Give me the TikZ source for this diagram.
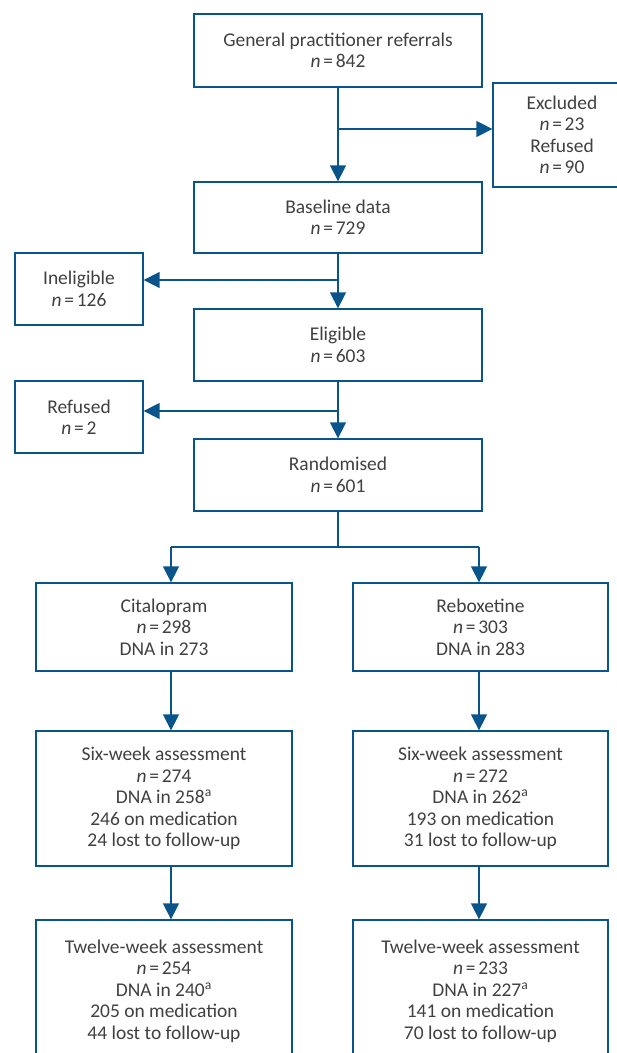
\documentclass[tikz,border=0pt]{standalone}
\usepackage{fontspec}
\setmainfont{Carlito}
\usetikzlibrary{arrows.meta}
\definecolor{lineblue}{RGB}{10,84,140}
\definecolor{txtgray}{RGB}{64,64,64}
\newcommand{\nn}[1]{\textit{n}\hspace{0.14em}=\hspace{0.14em}#1}
\begin{document}
\begin{tikzpicture}[x=0.75pt,y=-0.75pt,
  txt/.style={align=center,text=txtgray,font=\fontsize{14.6}{16.1}\selectfont},
  box/.style={txt,draw=lineblue,line width=1pt,rectangle,inner sep=0pt},
  conn/.style={draw=lineblue,line width=1.2pt},
  arr/.style={conn,-{Triangle[length=12pt,width=12pt]}}]
\useasboundingbox (0,0) rectangle (617,1053);
\node[box,minimum width=216pt,minimum height=54.75pt] (gp) at (338,50.5) {General practitioner referrals\\\nn{842}};
\node[box,minimum width=103.5pt,minimum height=78pt] (excl) at (562,135) {Excluded\\\nn{23}\\Refused\\\nn{90}};
\node[box,minimum width=216pt,minimum height=53.25pt] (base) at (338,217.5) {Baseline data\\\nn{729}};
\node[box,minimum width=96pt,minimum height=54pt] (inel) at (79,289) {Ineligible\\\nn{126}};
\node[box,minimum width=216pt,minimum height=54pt] (elig) at (338,345) {Eligible\\\nn{603}};
\node[box,minimum width=96pt,minimum height=54pt] (refu) at (79,417) {Refused\\\nn{2}};
\node[box,minimum width=216pt,minimum height=54pt] (rand) at (338,475) {Randomised\\\nn{601}};
\node[box,minimum width=192pt,minimum height=66pt] (cit) at (164,627) {Citalopram\\\nn{298}\\DNA in 273};
\node[box,minimum width=191.25pt,minimum height=66pt] (reb) at (480.5,627) {Reboxetine\\\nn{303}\\DNA in 283};
\node[box,minimum width=192pt,minimum height=101.25pt] (sixc) at (164,798.5) {Six-week assessment\\\nn{274}\\DNA in 258\textsuperscript{a}\\246 on medication\\24 lost to follow-up};
\node[box,minimum width=191.25pt,minimum height=101.25pt] (sixr) at (480.5,798.5) {Six-week assessment\\\nn{272}\\DNA in 262\textsuperscript{a}\\193 on medication\\31 lost to follow-up};
\node[box,minimum width=192pt,minimum height=105pt] (twc) at (164,990) {};
\node[box,minimum width=191.25pt,minimum height=105pt] (twr) at (480.5,990) {};
\node[txt,anchor=north] (twct) at (164,935) {Twelve-week assessment\\\nn{254}\\DNA in 240\textsuperscript{a}\\205 on medication\\44 lost to follow-up};
\node[txt,anchor=north] (twrt) at (480.5,935) {Twelve-week assessment\\\nn{233}\\DNA in 227\textsuperscript{a}\\141 on medication\\70 lost to follow-up};
% junctions
\coordinate (j1) at (338,129);
\coordinate (j2) at (338,280);
\coordinate (j3) at (338,411);
\coordinate (sp) at (338,547);
\coordinate (spl) at (171,547);
\coordinate (spr) at (479,547);
\draw[arr] (gp.south) -- (base.north);
\draw[arr] (j1) -- (j1 -| excl.west);
\draw[arr] (base.south) -- (elig.north);
\draw[arr] (j2) -- (j2 -| inel.east);
\draw[arr] (elig.south) -- (rand.north);
\draw[arr] (j3) -- (j3 -| refu.east);
\draw[conn] (rand.south) -- (sp);
\draw[conn] (spl) -- (spr);
\draw[arr] (spl) -- (spl |- cit.north);
\draw[arr] (spr) -- (spr |- reb.north);
\draw[arr] (cit.south -| spl) -- (spl |- sixc.north);
\draw[arr] (reb.south -| spr) -- (spr |- sixr.north);
\draw[arr] (sixc.south -| spl) -- (spl |- twc.north);
\draw[arr] (sixr.south -| spr) -- (spr |- twr.north);
\end{tikzpicture}
\end{document}
